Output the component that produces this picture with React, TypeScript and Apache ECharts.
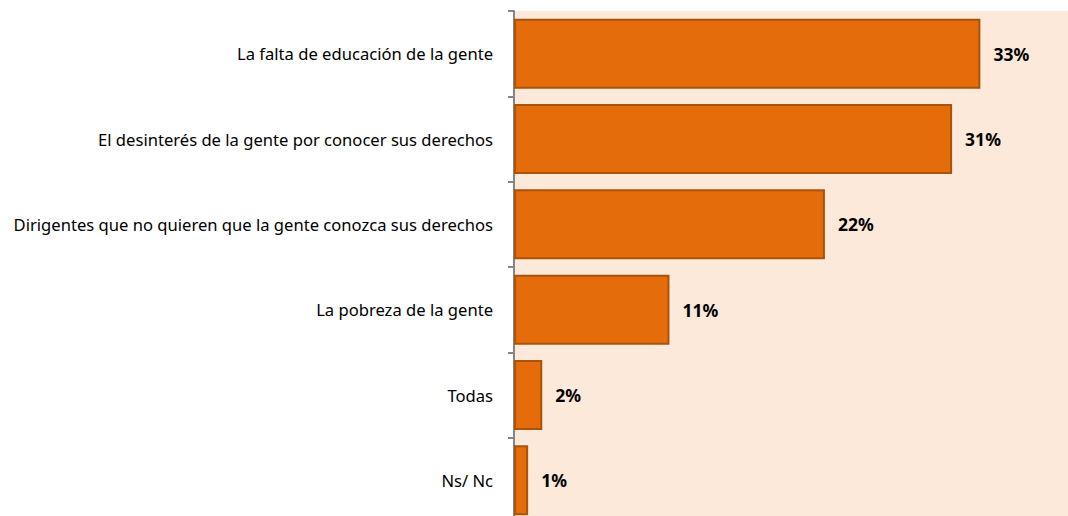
import React, { useEffect, useRef } from "react";
import * as echarts from "echarts";

const categories = [
  "La falta de educación de la gente",
  "El desinterés de la gente por conocer sus derechos",
  "Dirigentes que no quieren que la gente conozca sus derechos",
  "La pobreza de la gente",
  "Todas",
  "Ns/ Nc",
];
const values = [33, 31, 22, 11, 2, 1];

export default function App() {
  const ref = useRef<HTMLDivElement>(null);
  useEffect(() => {
    const chart = echarts.init(ref.current!, null, { renderer: "svg" });
    chart.setOption({
      animation: false,
      grid: {
        show: true,
        backgroundColor: "#FDE9D9",
        borderWidth: 0,
        left: 514,
        top: 11,
        right: 0,
        height: 512,
        containLabel: false,
      },
      xAxis: {
        type: "value",
        min: 0,
        max: 39.2,
        show: false,
      },
      yAxis: {
        type: "category",
        data: categories,
        inverse: true,
        axisLine: { show: true, lineStyle: { color: "#868686", width: 2 } },
        axisTick: { show: true, length: 6, lineStyle: { color: "#868686", width: 2 } },
        axisLabel: {
          margin: 21,
          color: "#000",
          fontFamily: "Noto Sans",
          fontSize: 16.6,
        },
        splitLine: { show: false },
      },
      series: [
        {
          type: "bar",
          data: values,
          barCategoryGap: "18%",
          itemStyle: { color: "#E46C0A", borderColor: "#A9530B", borderWidth: 2 },
          label: {
            show: true,
            position: "right",
            distance: 13,
            formatter: (p: any) => `${p.value}%`,
            fontFamily: "Noto Sans",
            fontWeight: "bold",
            fontSize: 17.5,
            color: "#000",
          },
        },
      ],
    });
    return () => chart.dispose();
  }, []);
  return (
    <div
      ref={ref}
      style={{ position: "fixed", left: 0, top: 0, width: 1068, height: 530, background: "#fff" }}
    />
  );
}
